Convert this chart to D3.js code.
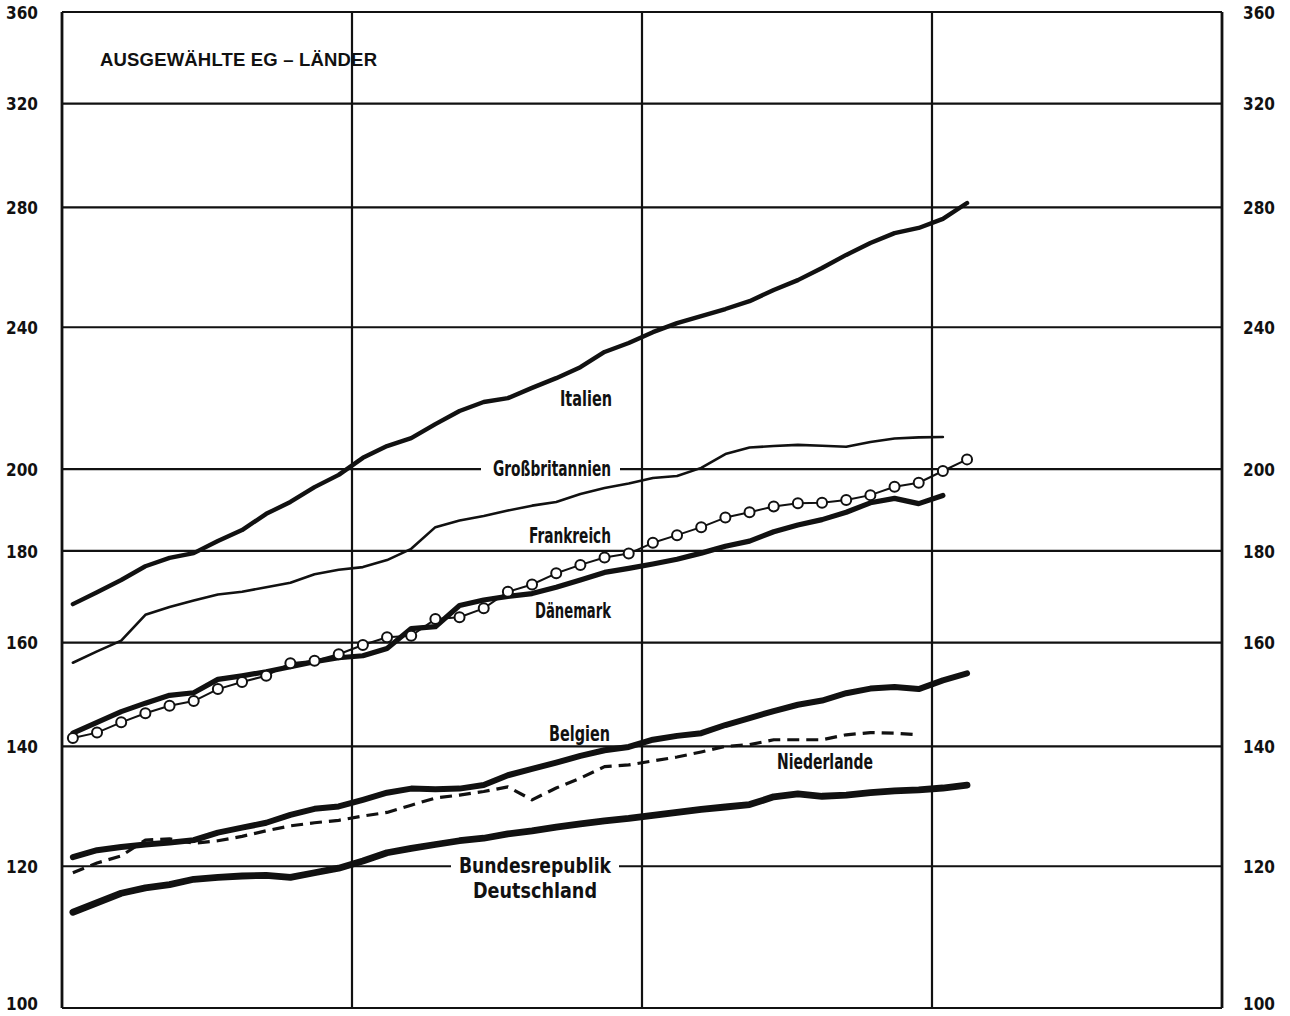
<!DOCTYPE html>
<html>
<head>
<meta charset="utf-8">
<script src="https://cdn.jsdelivr.net/npm/d3@7"></script>
<style>
  html, body { margin: 0; padding: 0; background: #fff; }
  svg { display: block; }
  .tick-label { font-family: "Liberation Sans Narrow", "DejaVu Sans Condensed", "Roboto Condensed", sans-serif; font-weight: bold; font-size: 17px; fill: #111; }
  .series-label { font-family: "Liberation Sans Narrow", "DejaVu Sans Condensed", "Roboto Condensed", sans-serif; font-weight: bold; font-size: 21px; fill: #111; }
  .title { font-family: "Liberation Sans", Arial, sans-serif; font-weight: bold; font-size: 18.5px; fill: #111; }
</style>
</head>
<body>
<svg id="chart" width="1290" height="1016"></svg>
<script>
// ---- Data (index values, monthly, 1st point = first month) ----
const yTicks = [100, 120, 140, 160, 180, 200, 240, 280, 320, 360];
const yearBoundaries = [0, 12, 24, 36, 48]; // months

const italien = [168.1,170.7,173.4,176.5,178.4,179.5,182.3,184.9,188.8,191.7,195.4,198.5,
  202.9,206.0,208.1,211.9,215.5,218.0,219.1,222.0,224.8,228.0,232.5,235.2,
  238.5,241.3,243.5,245.7,248.2,251.8,255.0,259.0,263.4,267.5,270.9,272.7,
  275.9,281.6];

const grossbritannien = [155.9,158.2,160.4,165.8,167.5,168.9,170.2,170.8,171.8,172.8,174.7,175.7,
  176.3,177.9,180.5,185.6,187.2,188.3,189.6,190.8,191.7,193.7,195.2,196.3,
  197.7,198.2,200.3,203.9,205.6,206.0,206.3,206.1,205.8,207.1,208.0,208.3,
  208.4];

const frankreich = [141.5,142.5,144.4,146.1,147.5,148.4,150.7,152.1,153.3,155.8,156.3,157.6,
  159.5,161.1,161.4,164.9,165.3,167.2,170.8,172.4,174.9,176.8,178.5,179.4,
  181.9,183.7,185.6,187.9,189.2,190.6,191.4,191.5,192.2,193.4,195.5,196.5,
  199.5,202.5];

const daenemark = [142.4,144.4,146.4,148.0,149.5,150.0,152.6,153.3,154.1,155.1,156.1,156.9,
  157.3,158.8,162.9,163.3,167.8,169.0,169.8,170.4,171.8,173.4,175.1,176.0,
  177.0,178.1,179.5,181.1,182.3,184.5,186.1,187.4,189.2,191.5,192.6,191.3,
  193.3];

const belgien = [121.4,122.5,123.0,123.4,123.7,124.1,125.3,126.1,126.9,128.2,129.2,129.6,
  130.7,131.9,132.6,132.5,132.6,133.2,134.9,136.0,137.1,138.3,139.3,139.9,
  141.2,141.9,142.4,143.9,145.2,146.5,147.7,148.5,149.9,150.8,151.1,150.7,
  152.4,153.8];

const niederlande = [119.0,120.5,121.6,124.1,124.3,123.6,124.0,124.7,125.6,126.4,126.9,127.3,
  128.0,128.6,129.8,131.0,131.5,132.1,132.9,130.7,132.7,134.4,136.4,136.7,
  137.4,138.1,139.0,140.0,140.3,141.2,141.2,141.2,142.1,142.5,142.4,142.1];

const brd = [113.1,114.5,115.9,116.7,117.2,118.0,118.3,118.5,118.6,118.3,119.0,119.7,
  120.8,122.1,122.8,123.4,124.0,124.4,125.1,125.6,126.2,126.7,127.2,127.6,
  128.1,128.6,129.1,129.5,129.9,131.2,131.7,131.3,131.5,131.9,132.2,132.4,
  132.7,133.2];

// ---- Layout ----
const svg = d3.select("#chart");
const mLeft = 62, mRight = 1222, mTop = 12, mBottom = 1008;
const monthOffset = 0.45; // data plotted within each month

const x = d3.scaleLinear().domain([0, 48]).range([mLeft, mRight]);
const y = d3.scaleLog().domain([100, 360]).range([mBottom, mTop]);

svg.append("rect").attr("width", 1290).attr("height", 1016).attr("fill", "#fff");

// horizontal grid lines
svg.append("g").selectAll("line").data(yTicks).join("line")
  .attr("x1", mLeft).attr("x2", mRight)
  .attr("y1", d => y(d)).attr("y2", d => y(d))
  .attr("stroke", "#111").attr("stroke-width", 2.2);

// vertical grid lines (year boundaries)
svg.append("g").selectAll("line").data(yearBoundaries).join("line")
  .attr("x1", d => x(d)).attr("x2", d => x(d))
  .attr("y1", mTop).attr("y2", mBottom)
  .attr("stroke", "#111")
  .attr("stroke-width", (d, i) => (i === 0 || i === yearBoundaries.length - 1) ? 2.8 : 2.2);

// axis labels, left and right
const axisL = d3.axisLeft(y).tickValues(yTicks).tickFormat(d3.format("d")).tickSize(0).tickPadding(24);
const axisR = d3.axisRight(y).tickValues(yTicks).tickFormat(d3.format("d")).tickSize(0).tickPadding(21);
const gL = svg.append("g").attr("transform", `translate(${mLeft},0)`).call(axisL);
const gR = svg.append("g").attr("transform", `translate(${mRight},0)`).call(axisR);
[gL, gR].forEach(g => {
  g.select(".domain").remove();
  g.attr("font-family", null).attr("font-size", null);
  g.selectAll("text").attr("class", "tick-label")
    .attr("dy", d => d === 100 ? "0.1em" : "0.36em");
});

// title
svg.append("text").attr("class", "title")
  .attr("x", 100).attr("y", 66)
  .attr("textLength", 277).attr("lengthAdjust", "spacing")
  .text("AUSGEWÄHLTE EG – LÄNDER");

// white gaps in gridlines behind labels
const gaps = [
  {v: 200, x1: 481, x2: 620},
  {v: 120, x1: 451, x2: 619}
];
svg.append("g").selectAll("rect").data(gaps).join("rect")
  .attr("x", d => d.x1).attr("width", d => d.x2 - d.x1)
  .attr("y", d => y(d.v) - 3).attr("height", 6)
  .attr("fill", "#fff");

const line = d3.line()
  .x((d, i) => x(i + monthOffset))
  .y(d => y(d));

function drawSeries(data, width, dash) {
  const p = svg.append("path").datum(data)
    .attr("d", line)
    .attr("fill", "none")
    .attr("stroke", "#111")
    .attr("stroke-width", width)
    .attr("stroke-linejoin", "round")
    .attr("stroke-linecap", dash ? "butt" : "round");
  if (dash) p.attr("stroke-dasharray", dash);
  return p;
}

drawSeries(niederlande, 3.2, "12,7");
drawSeries(brd, 6.8);
drawSeries(belgien, 6);
drawSeries(grossbritannien, 2.6);
drawSeries(italien, 4.4);
drawSeries(daenemark, 5.2);
drawSeries(frankreich, 2);

svg.append("g").selectAll("circle").data(frankreich).join("circle")
  .attr("cx", (d, i) => x(i + monthOffset))
  .attr("cy", d => y(d))
  .attr("r", 5)
  .attr("fill", "#fff")
  .attr("stroke", "#111")
  .attr("stroke-width", 2);

// series labels
const labels = [
  {t: "Italien", x: 560, y: 406, w: 52},
  {t: "Großbritannien", x: 493, y: 476, w: 118},
  {t: "Frankreich", x: 529, y: 543, w: 82},
  {t: "Dänemark", x: 535, y: 618, w: 76},
  {t: "Belgien", x: 549, y: 741, w: 61},
  {t: "Niederlande", x: 777, y: 769, w: 96},
  {t: "Bundesrepublik", x: 459, y: 873, w: 152},
  {t: "Deutschland", x: 473, y: 898, w: 124}
];
svg.append("g").selectAll("text").data(labels).join("text")
  .attr("class", "series-label")
  .attr("x", d => d.x).attr("y", d => d.y)
  .attr("textLength", d => d.w).attr("lengthAdjust", "spacingAndGlyphs")
  .text(d => d.t);
</script>
</body>
</html>
